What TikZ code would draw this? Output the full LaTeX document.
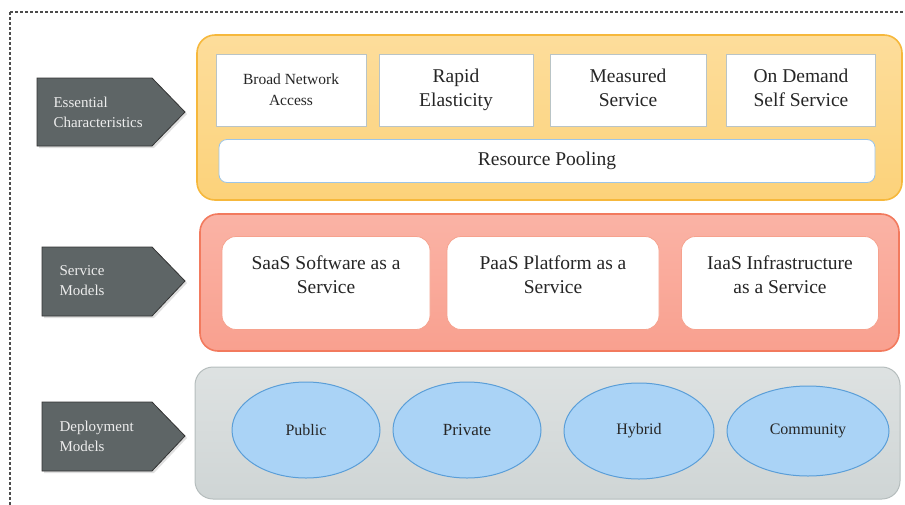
\documentclass[tikz,border=0pt]{standalone}
\usepackage{fontspec}
\setmainfont{Liberation Serif}
\usetikzlibrary{shapes.geometric,shapes.symbols,shadows}
\definecolor{yelFill}{HTML}{FCD27A}
\definecolor{yelLine}{HTML}{F6B83C}
\definecolor{redFill}{HTML}{F9A08F}
\definecolor{redLine}{HTML}{F27A5E}
\definecolor{grayFill}{HTML}{CFD5D5}
\definecolor{grayLine}{HTML}{B5BDBD}
\definecolor{ellFill}{HTML}{AAD3F6}
\definecolor{ellLine}{HTML}{5A9ED8}
\definecolor{tagFill}{HTML}{5E6566}
\definecolor{tagText}{HTML}{EDEDED}
\definecolor{boxLine}{HTML}{B9C4C6}
\tikzset{
  panel/.style={draw, line width=1.6pt, rounded corners=18pt},
  wbox/.style={draw=boxLine, fill=white, line width=0.8pt, align=center, text=black!85, font=\fontsize{19.5}{24}\selectfont},
  rbox/.style={draw=redLine!70, fill=white, line width=0.8pt, rounded corners=14pt, align=center, text=black!85, font=\fontsize{19.5}{24}\selectfont},
  ell/.style={ellipse, draw=ellLine, fill=ellFill, line width=1pt, text=black!85, font=\fontsize{16}{18}\selectfont},
  tag/.style={draw=black!80, fill=tagFill, line width=0.8pt, drop shadow={opacity=0.25, shadow xshift=2pt, shadow yshift=-2pt}},
  taglabel/.style={text=tagText, align=left, anchor=west, font=\fontsize{15}{20}\selectfont}
}
\begin{document}
\begin{tikzpicture}[x=1pt, y=-1pt]
\useasboundingbox (0,0) rectangle (905,504);
\clip (0,0) rectangle (905,504);
% dashed outer frame
\draw[black!70, densely dashed, line width=1.2pt] (10,12) -- (915,12);
\draw[black!70, densely dashed, line width=1.2pt] (10,12) -- (10,515);

% tags
\draw[tag] (37,78) -- (152,78) -- (185,112) -- (152,146) -- (37,146) -- cycle;
\node[taglabel] (t1) at (50,112) {Essential\\Characteristics};
\draw[tag] (42,247) -- (152,247) -- (185,281) -- (152,316) -- (42,316) -- cycle;
\node[taglabel] (t2) at (56,281) {Service\\Models};
\draw[tag] (42,402) -- (152,402) -- (185,436) -- (152,471) -- (42,471) -- cycle;
\node[taglabel] (t3) at (56,436) {Deployment\\Models};

% yellow panel
\draw[panel, draw=yelLine, top color=yelFill!75, bottom color=yelFill] (197,35) rectangle (902,200);
\node[wbox, minimum width=150pt, minimum height=72pt, font=\fontsize{15.5}{21}\selectfont] (bna) at (291,90) {Broad Network\\Access};
\node[wbox, minimum width=154pt, minimum height=72pt, text depth=5pt] (re) at (456,90) {Rapid\\Elasticity};
\node[wbox, minimum width=156pt, minimum height=72pt, text depth=5pt] (ms) at (628,90) {Measured\\Service};
\node[wbox, minimum width=149pt, minimum height=72pt, text depth=5pt] (od) at (801,90) {On Demand\\Self Service};
\node[wbox, draw=ellLine!60, rounded corners=8pt, minimum width=656pt, minimum height=43pt] (rp) at (547,161) {Resource Pooling};

% red panel
\draw[panel, draw=redLine, top color=redFill!80, bottom color=redFill] (200,214) rectangle (899,351);
\node[rbox, minimum width=208pt, minimum height=93pt, text depth=16pt] (saas) at (326,283) {SaaS Software as a\\Service};
\node[rbox, minimum width=212pt, minimum height=93pt, text depth=16pt] (paas) at (553,283) {PaaS Platform as a\\Service};
\node[rbox, minimum width=197pt, minimum height=93pt, text depth=16pt] (iaas) at (780,283) {IaaS Infrastructure\\as a Service};

% gray panel
\draw[panel, line width=1pt, draw=grayLine, top color=grayFill!70, bottom color=grayFill] (195,367) rectangle (900,499);
\node[ell, minimum width=148pt, minimum height=96pt] (pub) at (306,430) {Public};
\node[ell, minimum width=148pt, minimum height=96pt, font=\fontsize{17}{19}\selectfont] (pri) at (467,430) {Private};
\node[ell, minimum width=150pt, minimum height=96pt] (hyb) at (639,431) {Hybrid};
\node[ell, minimum width=162pt, minimum height=90pt] (com) at (808,431) {Community};
\end{tikzpicture}
\end{document}
